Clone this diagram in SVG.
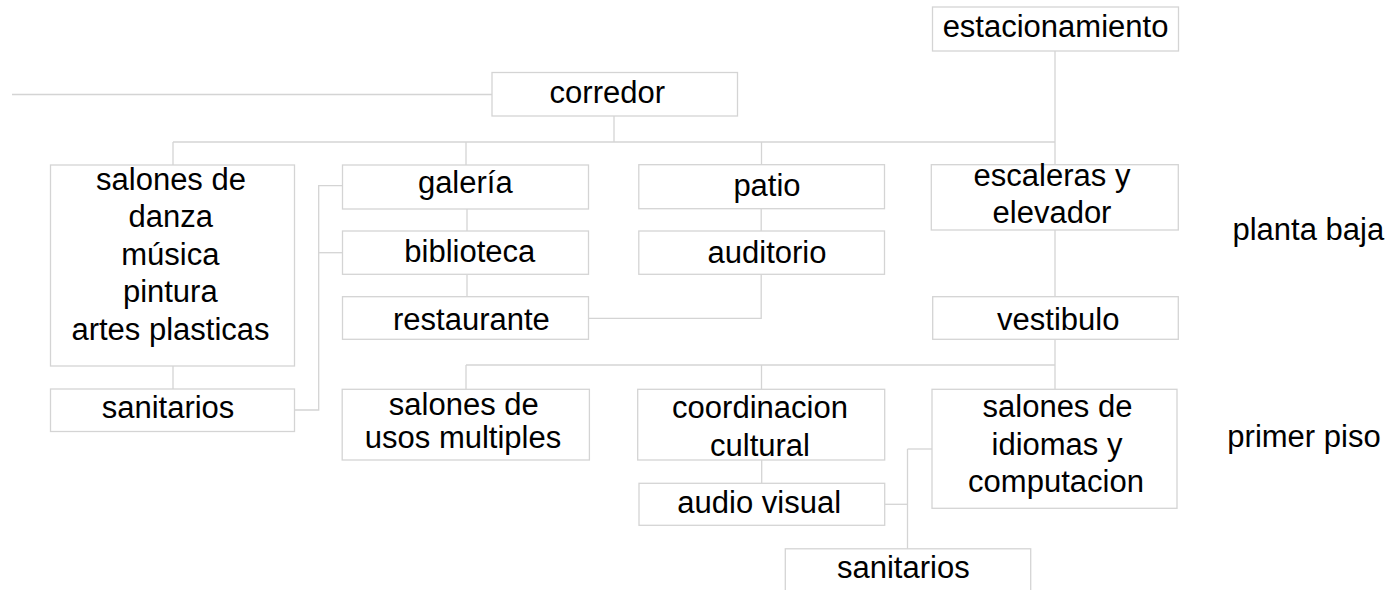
<svg xmlns="http://www.w3.org/2000/svg" width="1391" height="590" viewBox="0 0 1391 590">
<style>
.b{fill:#fff;stroke:#d4d4d4;stroke-width:1.3}
.c{fill:none;stroke:#d4d4d4;stroke-width:1.3}
text{font-family:"Liberation Sans",Arial,sans-serif;font-size:31px;fill:#000;text-anchor:middle}
</style>
<rect width="1391" height="590" fill="#fff"/>
<g id="connectors" class="c">
<path d="M12 94.5H492"/>
<path d="M614 116V142"/>
<path d="M173 142H1055"/>
<path d="M173 142V165"/>
<path d="M466 142V165"/>
<path d="M761.5 142V165"/>
<path d="M1055 51V165"/>
<path d="M173 366V389"/>
<path d="M294.5 410H318.7V185.7H342.5"/>
<path d="M318.7 252.7H342.5"/>
<path d="M467 208.7V231"/>
<path d="M467 274.3V296.7"/>
<path d="M588.6 318.3H761.2V274.3"/>
<path d="M761.2 208.7V231"/>
<path d="M1055 230V296.7"/>
<path d="M1055 339.3V389"/>
<path d="M466 365H1055"/>
<path d="M466 365V389"/>
<path d="M761.5 365V389"/>
<path d="M761.7 460V483.3"/>
<path d="M884.7 504.3H907.5"/>
<path d="M907.5 449V548.8"/>
<path d="M907.5 449H932"/>
</g>
<g id="estacionamiento"><rect class="b" x="932.5" y="7" width="246" height="44"/><text x="1055.5" y="37">estacionamiento</text></g>
<g id="corredor"><rect class="b" x="492" y="72.5" width="245.5" height="43.5"/><text x="607.3" y="102.5">corredor</text></g>
<g id="salones-danza"><rect class="b" x="50.5" y="165" width="244" height="201"/>
<text x="171" y="190">salones de</text><text x="170.7" y="227">danza</text><text x="170.3" y="265">música</text><text x="170.3" y="302">pintura</text><text x="170.5" y="340">artes plasticas</text></g>
<g id="sanitarios-1"><rect class="b" x="50.5" y="389" width="244" height="42.5"/><text x="168" y="418.3">sanitarios</text></g>
<g id="galeria"><rect class="b" x="342.5" y="165" width="246" height="44"/><text x="465.3" y="193">galería</text></g>
<g id="biblioteca"><rect class="b" x="342.5" y="231" width="246" height="43.3"/><text x="469.8" y="261.7">biblioteca</text></g>
<g id="restaurante"><rect class="b" x="342.5" y="296.7" width="246" height="42.6"/><text x="471.4" y="330">restaurante</text></g>
<g id="patio"><rect class="b" x="638.8" y="164.7" width="245.7" height="44"/><text x="767" y="196">patio</text></g>
<g id="auditorio"><rect class="b" x="638.8" y="231" width="245.7" height="43.3"/><text x="767" y="263">auditorio</text></g>
<g id="escaleras"><rect class="b" x="931.3" y="164.7" width="247" height="65.3"/><text x="1052" y="186">escaleras y</text><text x="1052" y="222.7">elevador</text></g>
<g id="vestibulo"><rect class="b" x="932.7" y="296.7" width="245.6" height="42.6"/><text x="1058.3" y="330">vestibulo</text></g>
<g id="usos-multiples"><rect class="b" x="342.2" y="389.3" width="247.2" height="70.7"/><text x="463.8" y="415">salones de</text><text x="463" y="448.3">usos multiples</text></g>
<g id="coordinacion"><rect class="b" x="637.7" y="389.3" width="247" height="70.7"/><text x="760" y="418.3">coordinacion</text><text x="760" y="456">cultural</text></g>
<g id="audio-visual"><rect class="b" x="639" y="483.3" width="245.7" height="42"/><text x="759.2" y="512.7">audio visual</text></g>
<g id="idiomas"><rect class="b" x="932" y="389.3" width="245" height="119"/><text x="1057.5" y="417.3">salones de</text><text x="1057" y="455">idiomas y</text><text x="1056" y="491.7">computacion</text></g>
<g id="sanitarios-2"><rect class="b" x="785.3" y="548.8" width="245.4" height="60"/><text x="903.3" y="578.3">sanitarios</text></g>
<g id="labels"><text x="1308.3" y="240">planta baja</text><text x="1304" y="446.7">primer piso</text></g>
</svg>
